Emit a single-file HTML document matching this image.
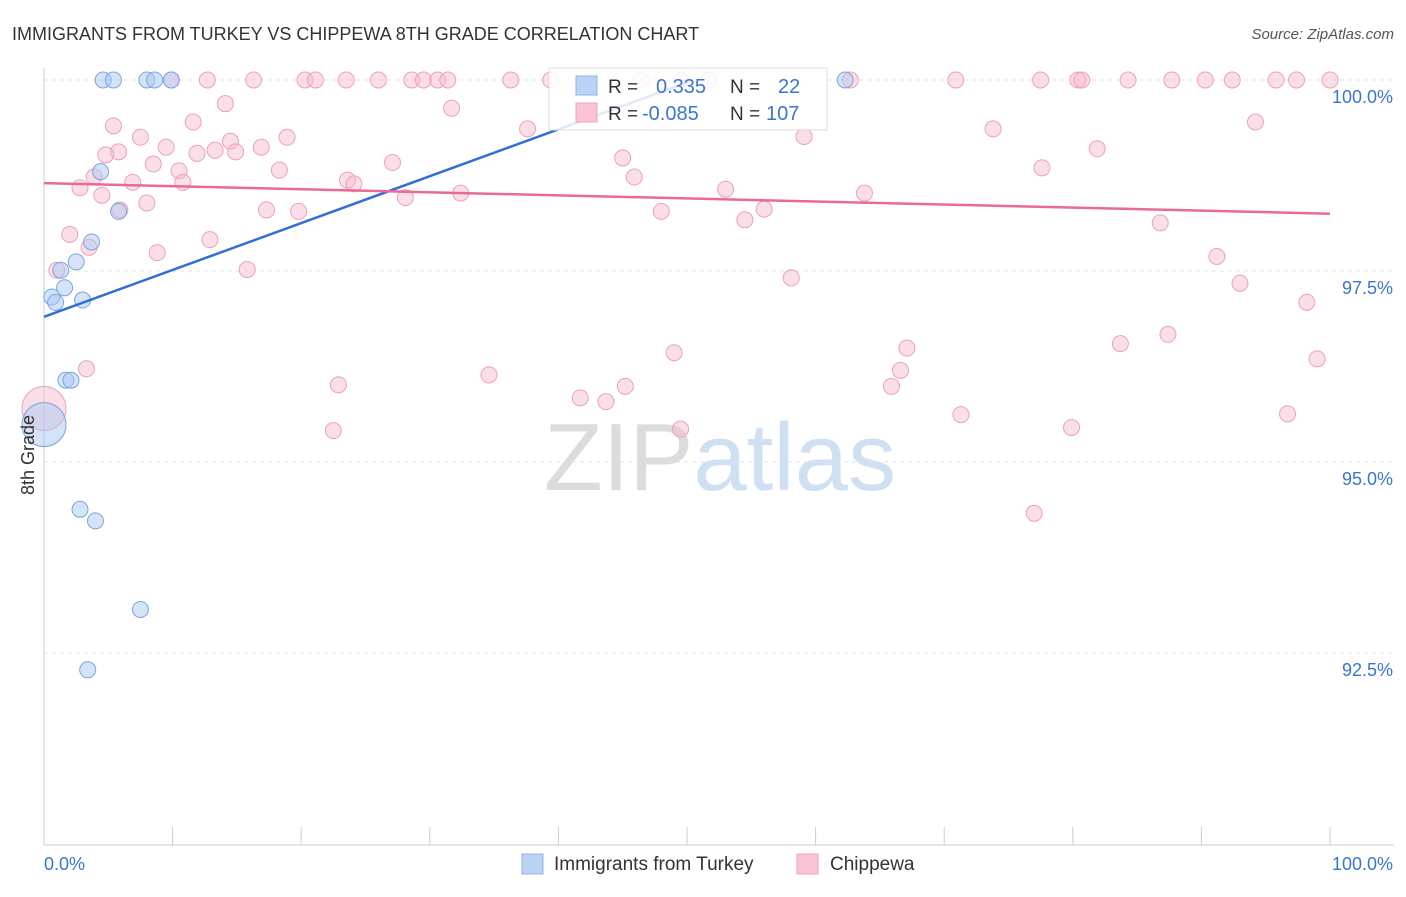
<!DOCTYPE html>
<html><head><meta charset="utf-8"><style>
body{margin:0;background:#fff;font-family:"Liberation Sans",sans-serif}
svg text{font-family:"Liberation Sans",sans-serif}
</style></head><body>
<svg width="1406" height="892" viewBox="0 0 1406 892" xmlns="http://www.w3.org/2000/svg">
<text x="12" y="40" font-size="18" fill="#333">IMMIGRANTS FROM TURKEY VS CHIPPEWA 8TH GRADE CORRELATION CHART</text>
<text x="1394" y="39" font-size="15" fill="#555" text-anchor="end" font-style="italic">Source: ZipAtlas.com</text>
<text x="720" y="490" font-size="96" text-anchor="middle" fill="#ddd" font-family="Liberation Serif"><tspan fill="#dcdcdc">ZIP</tspan><tspan fill="#cfe0f3" font-family="Liberation Sans">atlas</tspan></text>
<g id="grid"></g>
<g id="axes"></g>
<g id="pts"></g>
<g id="lines"></g>
<text transform="translate(34,455) rotate(-90)" font-size="18" fill="#333" text-anchor="middle">8th Grade</text>
<g>
<rect x="549" y="68" width="278" height="62" fill="#fff" fill-opacity="0.85" stroke="#ddd"/>
<rect x="576" y="76" width="21" height="19" fill="#b9d3f5" stroke="#8fb5e8"/>
<rect x="576" y="103" width="21" height="19" fill="#f9c4d4" stroke="#eea5bb"/>
<text x="608" y="93" font-size="19" fill="#333">R =</text>
<text x="656" y="93" font-size="20" fill="#3a75d0">0.335</text>
<text x="730" y="93" font-size="19" fill="#333">N =</text>
<text x="778" y="93" font-size="20" fill="#3a75d0">22</text>
<text x="608" y="120" font-size="19" fill="#333">R =</text>
<text x="642" y="120" font-size="20" fill="#3a75d0">-0.085</text>
<text x="730" y="120" font-size="19" fill="#333">N =</text>
<text x="766" y="120" font-size="20" fill="#3a75d0">107</text>
</g>
<g>
<rect x="522" y="854" width="21" height="20" fill="#b9d3f5" stroke="#8fb5e8"/>
<text x="554" y="870" font-size="19" fill="#333">Immigrants from Turkey</text>
<rect x="797" y="854" width="21" height="20" fill="#f9c4d4" stroke="#eea5bb"/>
<text x="830" y="870" font-size="19" fill="#333">Chippewa</text>
</g>
</svg>
<script>
const yTicks=[100,97.5,95,92.5];
const yTickLabels=["100.0%","97.5%","95.0%","92.5%"];
const xTickLabels=["0.0%","100.0%"];
const blueX=[4.6,5.4,8.0,8.6,9.9,62.3,4.4,5.8,3.7,2.5,1.3,1.6,0.6,0.9,3.0,1.7,2.1,0.0,2.8,4.0,7.5,3.4];
const blueY=[100,100,100,100,100,100,98.8,98.28,97.88,97.62,97.51,97.28,97.16,97.09,97.12,96.07,96.07,95.49,94.38,94.23,93.07,92.28];
const pinkX=[9.9,12.7,16.3,20.3,21.1,23.5,26,28.6,29.5,30.6,31.4,36.3,39.4,46.4,49.5,51.7,62.7,70.9,77.5,80.4,80.7,84.3,87.7,90.3,92.4,95.8,97.4,100,
14.1,31.7,5.4,11.6,7.5,14.5,18.9,37.6,73.8,94.2,59.1,9.5,5.8,4.8,11.9,13.3,14.9,16.9,8.5,45,27.1,81.9,10.5,18.3,3.9,10.8,45.9,23.6,24.1,77.6,2.8,6.9,4.5,8.0,28.1,32.4,53.0,63.8,5.9,17.3,19.8,48.0,56.0,54.5,86.8,2.0,12.9,3.5,8.8,1.0,15.8,91.2,58.1,93.0,98.2,87.4,83.7,67.1,49.0,99.0,3.3,34.6,66.6,22.9,45.2,65.9,41.7,43.7,96.7,71.3,22.5,49.5,79.9,77.0,0.0];
const pinkY=[100,100,100,100,100,100,100,100,100,100,100,100,100,100,100,100,100,100,100,100,100,100,100,100,100,100,100,100,
99.69,99.63,99.4,99.45,99.25,99.2,99.25,99.36,99.36,99.45,99.26,99.12,99.06,99.02,99.04,99.08,99.06,99.12,98.9,98.98,98.92,99.1,98.81,98.82,98.73,98.66,98.73,98.69,98.64,98.85,98.59,98.66,98.49,98.39,98.46,98.52,98.57,98.52,98.3,98.3,98.28,98.28,98.31,98.17,98.13,97.98,97.91,97.81,97.74,97.51,97.52,97.69,97.41,97.34,97.09,96.67,96.55,96.49,96.43,96.35,96.22,96.14,96.20,96.01,95.99,95.99,95.84,95.79,95.63,95.62,95.41,95.43,95.45,94.33,95.7];
const X0=44,X1=1330,Y100=80,PX=191/2.5;
const xs=v=>X0+(X1-X0)*v/100, ys=v=>Y100+(100-v)*PX;
const NS="http://www.w3.org/2000/svg";
function mk(t,a,p){const e=document.createElementNS(NS,t);for(const k in a)e.setAttribute(k,a[k]);document.getElementById(p).appendChild(e);return e;}
yTicks.forEach((t,i)=>{
const g=mk('line',{x1:X0,x2:1394,y1:ys(t),y2:ys(t),stroke:'#e3e3e3','stroke-dasharray':'4,4'},'grid');


const l=mk('text',{x:1393,y:ys(t)+23,'font-size':18,fill:'#3a75d0','text-anchor':'end'},'axes');l.textContent=yTickLabels[i];


});
mk('line',{x1:X0,x2:X0,y1:68,y2:845,stroke:'#ccc'},'axes');
mk('line',{x1:X0,x2:1394,y1:845,y2:845,stroke:'#ccc'},'axes');
for(let i=0;i<=10;i++){mk('line',{x1:xs(i*10),x2:xs(i*10),y1:827,y2:845,stroke:'#ccc'},'axes');}
const xl0=mk('text',{x:44,y:870,'font-size':18,fill:'#3a75d0'},'axes');xl0.textContent=xTickLabels[0];


const xl1=mk('text',{x:1393,y:870,'font-size':18,fill:'#3a75d0','text-anchor':'end'},'axes');xl1.textContent=xTickLabels[1];


pinkX.forEach((x,i)=>{const big=i===pinkX.length-1;
const c=mk('circle',{cx:xs(x),cy:ys(pinkY[i]),r:big?22:8,fill:'#f7b8cb','fill-opacity':0.45,stroke:'#eea0b8','stroke-width':1},'pts');

});
blueX.forEach((x,i)=>{const big=i===17;
const c=mk('circle',{cx:xs(x),cy:ys(blueY[i]),r:big?22:8,fill:'#a9c8f0','fill-opacity':0.5,stroke:'#7aa6e0','stroke-width':1},'pts');

});
const bl=mk('line',{x1:xs(0),y1:ys(96.9),x2:xs(50.2),y2:ys(99.98),stroke:'#2f6fd6','stroke-width':2.5},'lines');


const pl=mk('line',{x1:xs(0),y1:ys(98.65),x2:xs(100),y2:ys(98.25),stroke:'#e8699a','stroke-width':2.5},'lines');


</script>
</body></html>
